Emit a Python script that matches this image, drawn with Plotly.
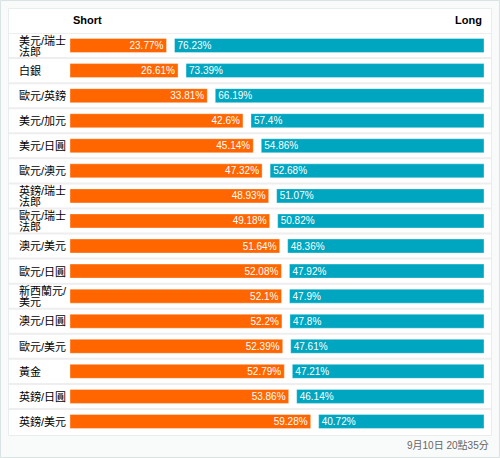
import plotly.graph_objects as go

pairs = ["美元/瑞士<br>法郎", "白銀", "歐元/英鎊", "美元/加元", "美元/日圓", "歐元/澳元",
         "英鎊/瑞士<br>法郎", "歐元/瑞士<br>法郎", "澳元/美元", "歐元/日圓", "新西蘭元/<br>美元",
         "澳元/日圓", "歐元/美元", "黃金", "英鎊/日圓", "英鎊/美元"]
short_pct = [23.77, 26.61, 33.81, 42.6, 45.14, 47.32, 48.93, 49.18, 51.64, 52.08, 52.1,
             52.2, 52.39, 52.79, 53.86, 59.28]
long_pct = [76.23, 73.39, 66.19, 57.4, 54.86, 52.68, 51.07, 50.82, 48.36, 47.92, 47.9,
            47.8, 47.61, 47.21, 46.14, 40.72]
timestamp = "9月10日 20點35分"

W, H = 500, 458
L, R, T, B = 70, 16, 33, 24
PW, PH = W - L - R, H - T - B
GAP = 8 * 100 / (PW - 8)

def px(x):
    return (x - L) / PW

def py(y):
    return (H - B - y) / PH

FONT = "Arial, Liberation Sans, Noto Sans CJK TC, sans-serif"
ORANGE = "#ff6600"
TEAL = "#00a6c0"

fig = go.Figure()
fig.add_trace(go.Bar(
    y=pairs, x=short_pct, base=0, orientation="h", width=0.56,
    marker=dict(color=ORANGE, line=dict(color="rgba(255,255,255,0.35)", width=1)),
    text=[f"{v}%" for v in short_pct], textposition="inside", insidetextanchor="end",
    textangle=0, constraintext="none", textfont=dict(color="white", size=10, family=FONT),
    hoverinfo="skip", name="Short",
))
fig.add_trace(go.Bar(
    y=pairs, x=long_pct, base=[s + GAP for s in short_pct], orientation="h", width=0.56,
    marker=dict(color=TEAL, line=dict(color="rgba(255,255,255,0.35)", width=1)),
    text=[f"{v}%" for v in long_pct], textposition="inside", insidetextanchor="start",
    textangle=0, constraintext="none", textfont=dict(color="white", size=10, family=FONT),
    hoverinfo="skip", name="Long",
))

shapes = [
    dict(type="rect", xref="paper", yref="paper", x0=px(0.5), x1=px(499.5), y0=py(457.5), y1=py(0.5),
         line=dict(color="#d9e3e3", width=1), fillcolor="#f9fafa", layer="below"),
    dict(type="rect", xref="paper", yref="paper", x0=px(8.5), x1=px(491.5), y0=py(435.5), y1=py(8.5),
         line=dict(color="#e9eded", width=1), fillcolor="white", layer="below"),
]
n = len(pairs)
for i in range(n):
    shapes.append(dict(type="line", xref="paper", yref="y", x0=px(9), x1=px(491),
                       y0=i - 0.5, y1=i - 0.5, line=dict(color="#eeeeee", width=2), layer="below"))

annotations = [
    dict(text="<b>Short</b>", xref="paper", yref="paper", x=px(71), y=py(20), xanchor="left",
         yanchor="middle", showarrow=False, font=dict(size=11, color="#000", family=FONT)),
    dict(text="<b>Long</b>", xref="paper", yref="paper", x=px(484), y=py(20), xanchor="right",
         yanchor="middle", showarrow=False, font=dict(size=11, color="#000", family=FONT)),
    dict(text=timestamp, xref="paper", yref="paper", x=px(491), y=py(445), xanchor="right",
         yanchor="middle", showarrow=False, font=dict(size=10, color="#666", family=FONT)),
]
for p in pairs:
    parts = p.split("<br>")
    if len(parts) == 1:
        annotations.append(dict(text=parts[0], xref="paper", yref="y", x=px(17), y=p,
                                xanchor="left", yanchor="middle", showarrow=False,
                                font=dict(size=11, color="#000", family=FONT)))
    else:
        for k, part in enumerate(parts):
            annotations.append(dict(text=part, xref="paper", yref="y", x=px(17), y=p,
                                    xanchor="left", yanchor="middle", showarrow=False,
                                    yshift=5.5 if k == 0 else -5.5,
                                    font=dict(size=11, color="#000", family=FONT)))

fig.update_layout(
    width=W, height=H, margin=dict(l=L, r=R, t=T, b=B),
    paper_bgcolor="white", plot_bgcolor="rgba(0,0,0,0)",
    barmode="overlay", showlegend=False,
    xaxis=dict(range=[0, 100 + GAP], visible=False, fixedrange=True),
    yaxis=dict(type="category", categoryorder="array", categoryarray=pairs,
               range=[n - 0.5, -0.5], showticklabels=False, showgrid=False,
               zeroline=False, fixedrange=True),
    shapes=shapes, annotations=annotations,
    font=dict(family=FONT),
)

fig.write_html("out.html", config={"displayModeBar": False},
               post_script="document.body.style.margin='0';")
